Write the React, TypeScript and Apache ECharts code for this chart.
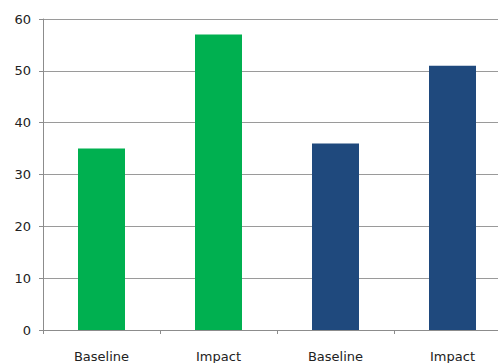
import React, { useEffect, useRef } from "react";
import * as echarts from "echarts";

const categories = ["Baseline", "Impact", "Baseline", "Impact"];
const values = [35, 57, 36, 51];
const barColors = ["#00B050", "#00B050", "#1F497D", "#1F497D"];
const yTicks = { min: 0, max: 60, interval: 10 };

export default function App() {
  const ref = useRef<HTMLDivElement>(null);

  useEffect(() => {
    if (!ref.current) return;
    const chart = echarts.init(ref.current, null, { renderer: "svg" });
    chart.setOption({
      animation: false,
      backgroundColor: "#ffffff",
      textStyle: { fontFamily: "DejaVu Sans" },
      grid: { left: 43, right: 0, top: 19, bottom: 30, containLabel: false },
      xAxis: {
        type: "category",
        data: categories,
        axisLine: { show: true, lineStyle: { color: "#8c8c8c", width: 1 } },
        axisTick: { show: true, length: 4, lineStyle: { color: "#8c8c8c" } },
        axisLabel: { color: "#222", fontSize: 13, margin: 20 },
      },
      yAxis: {
        type: "value",
        min: yTicks.min,
        max: yTicks.max,
        interval: yTicks.interval,
        axisLine: { show: true, lineStyle: { color: "#8c8c8c", width: 1 } },
        axisTick: { show: true, length: 4, lineStyle: { color: "#8c8c8c" } },
        axisLabel: { color: "#222", fontSize: 13, margin: 12 },
        splitLine: { show: true, lineStyle: { color: "#9a9a9a", width: 1 } },
      },
      series: [
        {
          type: "bar",
          barWidth: 47,
          data: values.map((v, i) => ({ value: v, itemStyle: { color: barColors[i] } })),
        },
      ],
    });
    return () => chart.dispose();
  }, []);

  // The plot runs past the right edge, so the chart is wider than its frame.
  return (
    <div
      style={{ position: "absolute", left: 0, top: 0, width: 498, height: 363, overflow: "hidden", background: "#fff" }}
    >
      <div ref={ref} style={{ width: 511, height: 363 }} />
    </div>
  );
}
